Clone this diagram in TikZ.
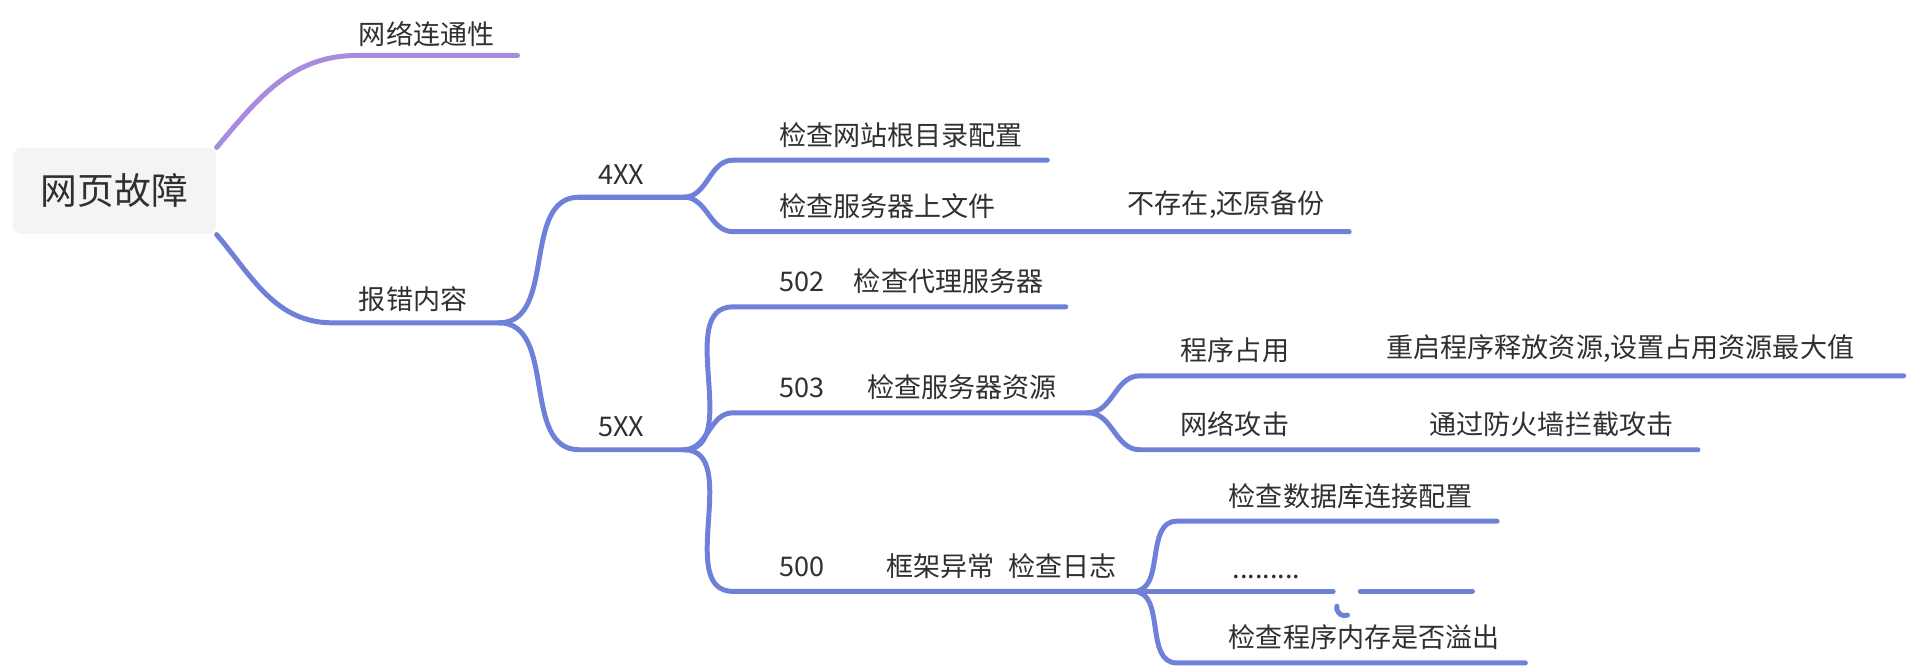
\documentclass[tikz,border=0pt]{standalone}
\usepackage{fontspec}
\setmainfont{Noto Sans CJK SC}
\definecolor{blu}{HTML}{6F80D9}
\definecolor{pur}{HTML}{A78BDF}
\definecolor{ink}{HTML}{303030}
\tikzset{
  branch/.style={blu, line width=2.3pt, line cap=round},
  label/.style={anchor=south west, inner sep=0pt, text=ink, font=\fontsize{12.5}{14}\selectfont},
}
\begin{document}
\begin{tikzpicture}[x=0.02cm, y=-0.02cm]
  % Canvas
    \useasboundingbox (0,0) rectangle (1568,542);

  % Root
    \node[fill=gray!9, rounded corners=4pt, minimum width=3.3cm, minimum height=1.4cm,
      text=ink, font=\fontsize{17}{20}\selectfont] (root) at (93,155) {网页故障};

  % Ends of the lines
    \coordinate (netA) at (290,45);   \coordinate (netB) at (420,45);
    \coordinate (errA) at (270,262);  \coordinate (errB) at (405,262);
    \coordinate (c4A) at (470,160);   \coordinate (c4B) at (555,160);
    \coordinate (c5A) at (470,365);   \coordinate (c5B) at (555,365);
    \coordinate (rootA) at (595,130); \coordinate (rootB) at (850,130);
    \coordinate (fileA) at (595,188); \coordinate (fileB) at (1095,188);
    \coordinate (c502A) at (595,249); \coordinate (c502B) at (865,249);
    \coordinate (c503A) at (595,335); \coordinate (c503B) at (883,335);
    \coordinate (c500A) at (595,480); \coordinate (c500B) at (920,480);
    \coordinate (progA) at (925,305); \coordinate (progB) at (1545,305);
    \coordinate (atkA) at (925,365);  \coordinate (atkB) at (1378,365);
    \coordinate (dbA) at (955,423);   \coordinate (dbB) at (1215,423);
    \coordinate (dotA) at (955,480);  \coordinate (dotB) at (1195,480);
    \coordinate (memA) at (955,538);  \coordinate (memB) at (1238,538);

  % Branches
    \draw[branch, pur] (root.north east) to[out=50,in=180] (netA) -- (netB);
    \draw[branch] (root.south east) to[out=-50,in=180] (errA) -- (errB);
    \foreach \p/\c in {errB/c4, errB/c5, c4B/root, c4B/file, c5B/c502, c5B/c503, c5B/c500,
                       c503B/prog, c503B/atk, c500B/db, c500B/mem} {
      \draw[branch] (\p) to[out=0,in=180] (\c A) -- (\c B);
    }
    \draw[branch] (c4A) -- (c4B);
    \draw[branch] (c500B) -- (dotA) -- (1082,480);
    \draw[branch] (1085,492) arc[start angle=190, end angle=70, radius=6.5];
    \draw[branch] (1104,480) -- (dotB);

  % Labels
    \node[label] (tNet) at (291,38) {网络连通性};
    \node[label] (tErr) at (291,253) {报错内容};
    \node[label] (t4) at (485,150) {4XX};
    \node[label] (t5) at (485,355) {5XX};
    \node[label] (tRoot) at (632,120) {检查网站根目录配置};
    \node[label] (tFile) at (632,178) {检查服务器上文件};
    \node[label] (tBak) at (915,178) {不存在,还原备份};
    \node[label] (t502) at (632,239) {502\hspace{1.1em}检查代理服务器};
    \node[label] (t503) at (632,325) {503\hspace{1.6em}检查服务器资源};
    \node[label] (t500) at (632,470) {500\hspace{2.3em}框架异常\hspace{0.5em}检查日志};
    \node[label] (tProg) at (958,295) {程序占用};
    \node[label] (tRst) at (1125,295) {重启程序释放资源,设置占用资源最大值};
    \node[label] (tAtk) at (958,355) {网络攻击};
    \node[label] (tFw) at (1160,355) {通过防火墙拦截攻击};
    \node[label] (tDb) at (997,413) {检查数据库连接配置};
    \node[label] (tDot) at (1000,470) {.........};
    \node[label] (tMem) at (997,528) {检查程序内存是否溢出};
\end{tikzpicture}
\end{document}
